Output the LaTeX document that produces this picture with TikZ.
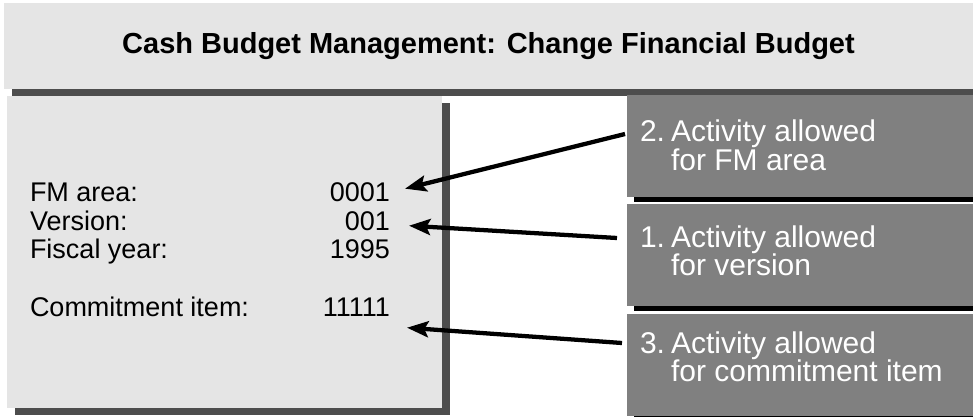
\documentclass[tikz,border=0pt]{standalone}
\usepackage{fontspec}
\setmainfont{Liberation Sans}
\usetikzlibrary{arrows.meta}
\definecolor{paper}{HTML}{E5E5E5}
\definecolor{dropgray}{HTML}{4D4D4D}
\definecolor{note}{HTML}{808080}

\begin{document}
\begin{tikzpicture}[
    x=0.75pt, y=-0.75pt,
    every node/.style={inner sep=0pt, outer sep=0pt},
    field/.style={font=\fontsize{20.25}{21.75}\selectfont, anchor=base west},
    val/.style={font=\fontsize{20.25}{21.75}\selectfont, anchor=base east},
    memo/.style={font=\fontsize{22.5}{18}\selectfont, text=white, anchor=base west},
    notebox/.style={fill=note, minimum width=259.5pt, minimum height=76.5pt, anchor=north west},
    ptr/.style={line width=3.2pt, -{Stealth[length=16pt, width=12pt, inset=3pt]}},
]
\useasboundingbox (0,0) rectangle (973,417);

% title bar with its shadow
\fill[dropgray] (12,10) rectangle (981,96);
\node[fill=paper, minimum width=726.75pt, minimum height=64.5pt, anchor=north west,
      font=\bfseries\fontsize{21.75}{24}\selectfont] (bar) at (4,3)
      {Cash Budget Management: Change Financial Budget};

% screen panel with its shadow
\fill[dropgray] (15,103) rectangle (450,415);
\node[fill=paper, minimum width=326.25pt, minimum height=234pt, anchor=north west] (panel) at (7,96) {};

\node[field] (fmlab) at (30,201) {FM area:};
\node[val] (fmval) at (390,201) {0001};
\node[field] (verlab) at (30,230) {Version:};
\node[val] (verval) at (390,230) {001};
\node[field] (yrlab) at (30,258) {Fiscal year:};
\node[val] (yrval) at (390,258) {1995};
\node[field] (cilab) at (30,316) {Commitment item:};
\node[val] (cival) at (390,316) {11111};

% activity notes, each with a thin black shadow
\fill[black] (634,100) rectangle (980,202);
\node[notebox] (fmnote) at (627,95) {};
\node[memo] at (640,142) {\begin{tabular}[t]{@{}l@{\hspace{4.5pt}}l@{}}2.&Activity allowed\\&for FM area\end{tabular}};

\fill[black] (634,209) rectangle (980,311);
\node[notebox] (vernote) at (627,204) {};
\node[memo] at (640,247) {\begin{tabular}[t]{@{}l@{\hspace{4.5pt}}l@{}}1.&Activity allowed\\&for version\end{tabular}};

\fill[black] (634,319) rectangle (980,421);
\node[notebox] (cinote) at (627,314) {};
\node[memo] at (640,353) {\begin{tabular}[t]{@{}l@{\hspace{4.5pt}}l@{}}3.&Activity allowed\\&for commitment item\end{tabular}};

% pointers
\draw[ptr] ([shift={(-2,39)}]fmnote.north west) -- ([shift={(15,-3)}]fmval.east);
\draw[ptr] ([shift={(-10,34)}]vernote.north west) -- ([shift={(19,5)}]verval.east);
\draw[ptr] ([shift={(-5,29)}]cinote.north west) -- ([shift={(17,21)}]cival.east);
\end{tikzpicture}
\end{document}
